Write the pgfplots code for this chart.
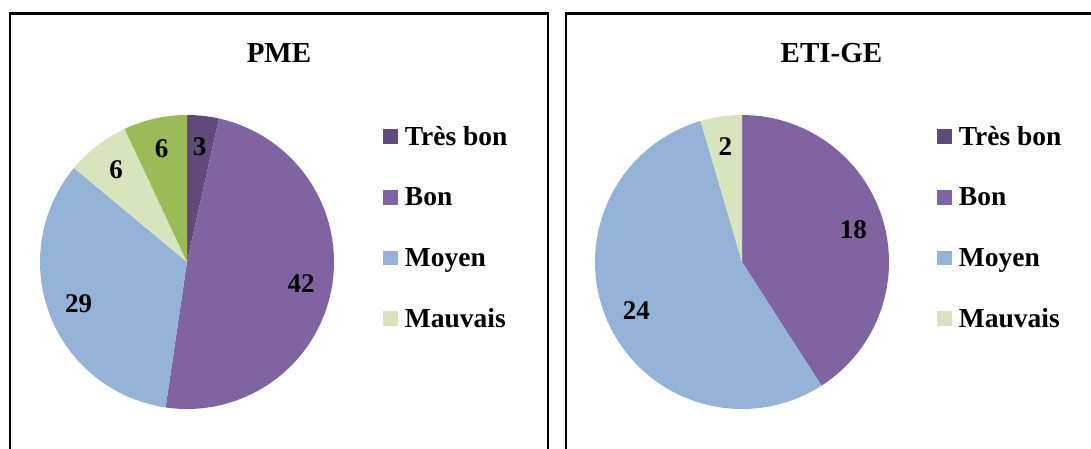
\documentclass[border=0pt]{standalone}
\usepackage{pgfplots}
\pgfplotsset{compat=1.18}
\usepgfplotslibrary{polar}
\usepackage{fontspec}
\setmainfont{Liberation Serif}
\definecolor{TresBon}{HTML}{604A7B}
\definecolor{Bon}{HTML}{8064A2}
\definecolor{Moyen}{HTML}{95B3D7}
\definecolor{Mauvais}{HTML}{D7E4BD}
\definecolor{Autre}{HTML}{9BBB59}
\tikzset{pielab/.style={font=\fontsize{27}{27}\selectfont\bfseries, inner sep=0pt, text=black}}
% #1 cumulative value before slice, #2 value, #3 total, #4 colour
\newcommand{\pieslice}[4]{%
  \pgfmathsetmacro\angA{90-#1/#3*360}%
  \pgfmathsetmacro\angB{90-(#1+#2)/#3*360}%
  \pgfmathsetmacro\angM{(\angA+\angB)/2}%
  \edef\doslice{\noexpand\addplot[fill=#4, draw=none, forget plot, domain=\angB:\angA, samples=120] {1} -- (axis cs:0,0) -- cycle;}%
  \doslice
  \edef\dolabel{\noexpand\node[pielab] at (axis cs:\angM,0.79) {#2};}%
  \dolabel
}
\pgfplotsset{
  pie/.style={
    hide axis, ymin=0, ymax=1, clip=false,
    width=294pt, height=294pt, scale only axis,
    anchor=origin,
    title style={font=\fontsize{29}{29}\selectfont\bfseries, anchor=base, inner sep=0pt},
    legend image code/.code={\fill[##1] (0pt,2pt) rectangle (13.5pt,15.5pt);},
    legend style={draw=none, fill=none, inner sep=0pt, outer sep=0pt, anchor=north west,
      font=\fontsize{27.5}{27.5}\selectfont\bfseries,
      row sep=34.7pt, column sep=8pt,
      nodes={inner sep=0pt, outer sep=0pt, anchor=base west, text height=20pt, text depth=6pt}},
    legend cell align=left,
  }
}
\begin{document}
\begin{tikzpicture}
\useasboundingbox (0pt,0pt) rectangle (1091pt,448pt);
\clip (0pt,0pt) rectangle (1091pt,448pt);
\draw[line width=2.2pt] (10pt,434.5pt) rectangle (548pt,-20pt);
\draw[line width=2.2pt] (566pt,434.5pt) rectangle (1120pt,-20pt);
\begin{polaraxis}[pie, at={(187pt,186pt)},
  title={PME}, title style={at={(axis description cs:0.8129,1.129)}},
  legend style={at={(axis description cs:1.1667,0.966)}}]
\pieslice{0}{3}{86}{TresBon}
\pieslice{3}{42}{86}{Bon}
\pieslice{45}{29}{86}{Moyen}
\pieslice{74}{6}{86}{Mauvais}
\pieslice{80}{6}{86}{Autre}
\addlegendimage{TresBon}\addlegendentry{Très bon}
\addlegendimage{Bon}\addlegendentry{Bon}
\addlegendimage{Moyen}\addlegendentry{Moyen}
\addlegendimage{Mauvais}\addlegendentry{Mauvais}
\end{polaraxis}
\begin{polaraxis}[pie, at={(742pt,186pt)},
  title={ETI-GE}, title style={at={(axis description cs:0.8044,1.129)}},
  legend style={at={(axis description cs:1.1633,0.966)}}]
\pieslice{0}{18}{44}{Bon}
\pieslice{18}{24}{44}{Moyen}
\pieslice{42}{2}{44}{Mauvais}
\addlegendimage{TresBon}\addlegendentry{Très bon}
\addlegendimage{Bon}\addlegendentry{Bon}
\addlegendimage{Moyen}\addlegendentry{Moyen}
\addlegendimage{Mauvais}\addlegendentry{Mauvais}
\end{polaraxis}
\end{tikzpicture}
\end{document}
